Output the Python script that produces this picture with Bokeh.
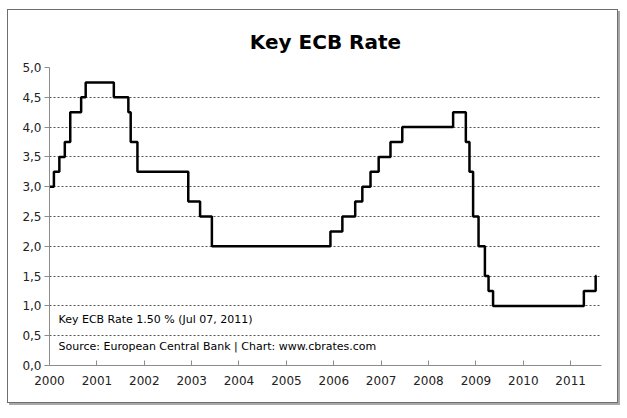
import pandas as pd
from bokeh.plotting import figure
from bokeh.models import FixedTicker, Label, Range1d
from bokeh.embed import file_html
from bokeh.resources import INLINE

# --- data: ECB key rate, effective dates ---
dates = ["2000-01-01", "2000-02-04", "2000-03-17", "2000-04-28", "2000-06-09",
         "2000-09-01", "2000-10-06", "2001-05-11", "2001-08-31", "2001-09-18",
         "2001-11-09", "2002-12-06", "2003-03-07", "2003-06-06", "2005-12-06",
         "2006-03-08", "2006-06-15", "2006-08-09", "2006-10-11", "2006-12-13",
         "2007-03-14", "2007-06-13", "2008-07-09", "2008-10-15", "2008-11-12",
         "2008-12-10", "2009-01-21", "2009-03-11", "2009-04-08", "2009-05-13",
         "2011-04-13", "2011-07-13", "2011-07-20"]
rates = [3.00, 3.25, 3.50, 3.75, 4.25, 4.50, 4.75, 4.50, 4.25, 3.75,
         3.25, 2.75, 2.50, 2.00, 2.25, 2.50, 2.75, 3.00, 3.25, 3.50,
         3.75, 4.00, 4.25, 3.75, 3.25, 2.50, 2.00, 1.50, 1.25, 1.00,
         1.25, 1.50, 1.50]

y_ticks = [0.0, 0.5, 1.0, 1.5, 2.0, 2.5, 3.0, 3.5, 4.0, 4.5, 5.0]
y_labels = ["0,0", "0,5", "1,0", "1,5", "2,0", "2,5", "3,0", "3,5", "4,0", "4,5", "5,0"]
x_years = [2000, 2001, 2002, 2003, 2004, 2005, 2006, 2007, 2008, 2009, 2010, 2011]
x_labels = [str(y) for y in x_years]

title_text = "Key ECB Rate"
note_text = "Key ECB Rate 1.50 % (Jul 07, 2011)"
source_text = "Source: European Central Bank | Chart: www.cbrates.com"

x = pd.to_datetime(dates)
x_start = pd.Timestamp("2000-01-01")
x_end = pd.Timestamp("2011-08-27")

def ms(ts):
    return ts.value / 1e6

year_ticks = [ms(pd.Timestamp(f"{y}-01-01")) for y in x_years]

p = figure(width=611, height=394, output_backend="svg", toolbar_location=None,
           x_axis_type="datetime",
           x_range=Range1d(ms(x_start), ms(x_end)), y_range=Range1d(0, 5),
           min_border_left=41, min_border_right=18, min_border_top=57,
           min_border_bottom=39)
p.styles = {"border": "1px solid #6e6e6e", "box-shadow": "2px 2px 0 #a8a8a8",
            "margin-left": "7px", "margin-top": "9px"}
p.outline_line_color = None
p.background_fill_color = "white"
p.border_fill_color = "white"

p.title.text = title_text
p.title.align = "center"
p.title.text_font = "DejaVu Sans"
p.title.text_font_style = "bold"
p.title.text_font_size = "20px"
p.title.text_color = "black"
p.title.standoff = 28

p.step(x, rates, mode="after", line_color="black", line_width=2.5)

# axes
p.yaxis.ticker = FixedTicker(ticks=y_ticks)
p.yaxis.major_label_overrides = dict(zip(y_ticks, y_labels))
p.xaxis.ticker = FixedTicker(ticks=year_ticks)
p.xaxis.major_label_overrides = dict(zip(year_ticks, x_labels))

for ax in (p.xaxis, p.yaxis):
    ax.axis_line_color = "#8c8c8c"
    ax.axis_line_width = 1
    ax.major_tick_line_color = "#8c8c8c"
    ax.minor_tick_line_color = None
    ax.major_label_text_font = "DejaVu Sans"
    ax.major_label_text_font_size = "12px"
    ax.major_label_text_color = "#222222"

p.yaxis.major_tick_in = 0
p.yaxis.major_tick_out = 5
p.yaxis.major_label_standoff = 3
p.xaxis.major_tick_in = 5
p.xaxis.major_tick_out = 0
p.xaxis.major_label_standoff = 10

p.xgrid.grid_line_color = None
p.ygrid.grid_line_color = "#555555"
p.ygrid.grid_line_dash = "2 2"
p.ygrid.grid_line_width = 1

p.add_layout(Label(x=9, y=40, x_units="screen", y_units="screen", text=note_text,
                   text_font="DejaVu Sans", text_font_size="11px", text_color="black"))
p.add_layout(Label(x=9, y=13, x_units="screen", y_units="screen", text=source_text,
                   text_font="DejaVu Sans", text_font_size="11px", text_color="black"))

open("out.html", "w").write(file_html(p, INLINE))
